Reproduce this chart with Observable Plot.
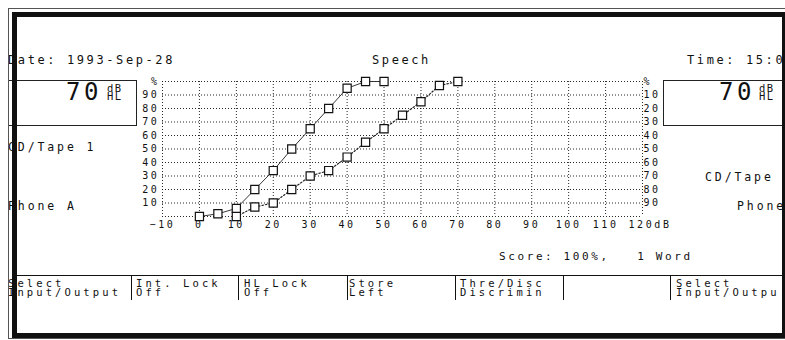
<!DOCTYPE html>
<html>
<head>
<meta charset="utf-8">
<script src="https://cdn.jsdelivr.net/npm/d3@7"></script>
<script src="https://cdn.jsdelivr.net/npm/@observablehq/plot@0.6"></script>
<style>
  html, body { margin: 0; padding: 0; background: #fff; }
  #screen { position: relative; width: 785px; height: 340px; overflow: hidden; background: #fff;
            font-family: "DejaVu Sans Mono", "Liberation Mono", monospace; color: #111; }
  #screen svg { position: absolute; left: 0; top: 0; }
  .t { position: absolute; white-space: pre; line-height: 1; }
  .bar { position: absolute; background: #111; }
  .box { position: absolute; border: 1px solid #222; box-sizing: border-box; }
</style>
</head>
<body>
<div id="screen"></div>
<script>
// ---------- data ----------
const xTicks = [-10, 0, 10, 20, 30, 40, 50, 60, 70, 80, 90, 100, 110, 120];
const yTicks = [0, 10, 20, 30, 40, 50, 60, 70, 80, 90, 100];
const leftYTicks = [10, 20, 30, 40, 50, 60, 70, 80, 90, 100];
const rightYTicks = [10, 20, 30, 40, 50, 60, 70, 80, 90, 100];

const s1Level = [0, 5, 10, 15, 20, 25, 30, 35, 40, 45, 50];
const s1Score = [0, 2, 6, 20, 34, 50, 65, 80, 95, 100, 100];
const s2Level = [10, 15, 20, 25, 30, 35, 40, 45, 50, 55, 60, 65, 70];
const s2Score = [0, 7, 10, 20, 30, 34, 44, 55, 65, 75, 85, 97, 100];

const headerDate = "Date: 1993-Sep-28";
const headerTitle = "Speech";
const headerTime = "Time: 15:0";
const levelText = "70";
const unitText = "dB\nHL";
const leftSource = "CD/Tape 1";
const leftTransducer = "Phone A";
const rightSource = "CD/Tape";
const rightTransducer = "Phone";
const scoreText = "Score: 100%,   1 Word";
const softkeys = [
  ["Select", "Input/Output"],
  ["Int. Lock", "Off"],
  ["HL Lock", "Off"],
  ["Store", "Left"],
  ["Thre/Disc", "Discrimin"],
  ["", ""],
  ["Select", "Input/Outpu"]
];

const series1 = s1Level.map((v, i) => ({level: v, score: s1Score[i]}));
const series2 = s2Level.map((v, i) => ({level: v, score: s2Score[i]}));

// ---------- chart ----------
const font = '"DejaVu Sans Mono", "Liberation Mono", monospace';
const chart = Plot.plot({
  width: 785,
  height: 340,
  marginLeft: 162,
  marginRight: 143,
  marginTop: 81,
  marginBottom: 124,
  x: {domain: [-10, 120]},
  y: {domain: [0, 100]},
  style: {fontFamily: font, fontSize: "10px", letterSpacing: "2.6px", color: "#111", background: "transparent", overflow: "visible"},
  marks: [
    Plot.gridX(xTicks, {stroke: "#111", strokeOpacity: 0.9, strokeDasharray: "1,2"}),
    Plot.gridY(yTicks, {stroke: "#111", strokeOpacity: 0.9, strokeDasharray: "1,2"}),
    Plot.axisY({ticks: leftYTicks, tickSize: 0, tickPadding: 3, label: null,
                tickFormat: d => d === 100 ? "%" : String(d)}),
    Plot.axisY({anchor: "right", ticks: rightYTicks, tickSize: 0, tickPadding: 1, label: null,
                tickFormat: d => d === 100 ? "%" : String(100 - d)}),
    Plot.axisX({ticks: xTicks.slice(0, -1), tickSize: 0, tickPadding: 4, label: null}),
    Plot.text(xTicks.slice(-1), {x: d => d, y: 0, text: d => d + "dB", textAnchor: "start", dx: -14, dy: 8}),
    Plot.line(series1, {x: "level", y: "score", stroke: "#222", strokeWidth: 0.9}),
    Plot.line(series2, {x: "level", y: "score", stroke: "#222", strokeWidth: 1.2, strokeDasharray: "1.5,2"}),
    Plot.dot(series1, {x: "level", y: "score", symbol: "square", r: 4.6, fill: "#fff", stroke: "#111", strokeWidth: 1.2}),
    Plot.dot(series2, {x: "level", y: "score", symbol: "square", r: 4.6, fill: "#fff", stroke: "#111", strokeWidth: 1.2})
  ]
});

const screen = document.getElementById("screen");
screen.appendChild(chart);

// ---------- screen chrome ----------
function txt(s, x, baseline, size, spacing, lineHeight) {
  const d = document.createElement("div");
  d.className = "t";
  d.textContent = s;
  const lh = lineHeight || size;
  d.style.left = x + "px";
  // baseline of first line: top + (lh - 1.164*size)/2 + 0.928*size
  d.style.top = (baseline - ((lh - 1.164 * size) / 2 + 0.928 * size)) + "px";
  d.style.fontSize = size + "px";
  d.style.lineHeight = lh + "px";
  d.style.letterSpacing = spacing + "px";
  screen.appendChild(d);
}
function rect(cls, x, y, w, h) {
  const d = document.createElement("div");
  d.className = cls;
  Object.assign(d.style, {left: x + "px", top: y + "px", width: w + "px", height: h + "px"});
  screen.appendChild(d);
}

txt(headerDate, 8, 64, 12, 2.6);
txt(headerTitle, 372, 64, 12, 2.6);
txt(headerTime, 687, 64, 12, 2.6);

rect("box", 8, 80, 129, 46);
rect("box", 663, 80, 140, 46);
txt(levelText, 66, 100, 24, 3.6);
txt(unitText, 107, 91.5, 10.5, 1.4, 8.5);
txt(levelText, 719, 100, 24, 3.6);
txt(unitText, 759, 91.5, 10.5, 1.4, 8.5);

txt(leftSource, 8, 152, 11.5, 2.9);
txt(leftTransducer, 8, 211, 11.5, 2.9);
txt(rightSource, 705, 182, 11.5, 2.9);
txt(rightTransducer, 737, 211, 11.5, 2.9);

txt(scoreText, 499, 260, 11, 2.6);

// soft keys
rect("bar", 17, 275, 770, 1);
const keyX = [8, 136, 244, 349, 460, 568, 676];
const sepX = [131, 238, 347, 455, 563, 670];
sepX.forEach(x => rect("bar", x, 275, 1.4, 25));
softkeys.forEach((k, i) => {
  if (k[0] || k[1]) txt(k[0] + "\n" + k[1], keyX[i], 287.5, 10.5, 3.1, 9);
});

// frame
const thin = document.createElement("div");
Object.assign(thin.style, {position: "absolute", left: "7.5px", top: "7.5px", width: "800px", height: "331px",
  border: "1.5px solid #555", boxSizing: "border-box"});
screen.appendChild(thin);
rect("bar", 12, 12, 790, 4.5);
rect("bar", 12, 12, 5, 326);
rect("bar", 12, 333, 790, 4.5);
rect("bar", 782, 12, 10, 326);
</script>
</body>
</html>
